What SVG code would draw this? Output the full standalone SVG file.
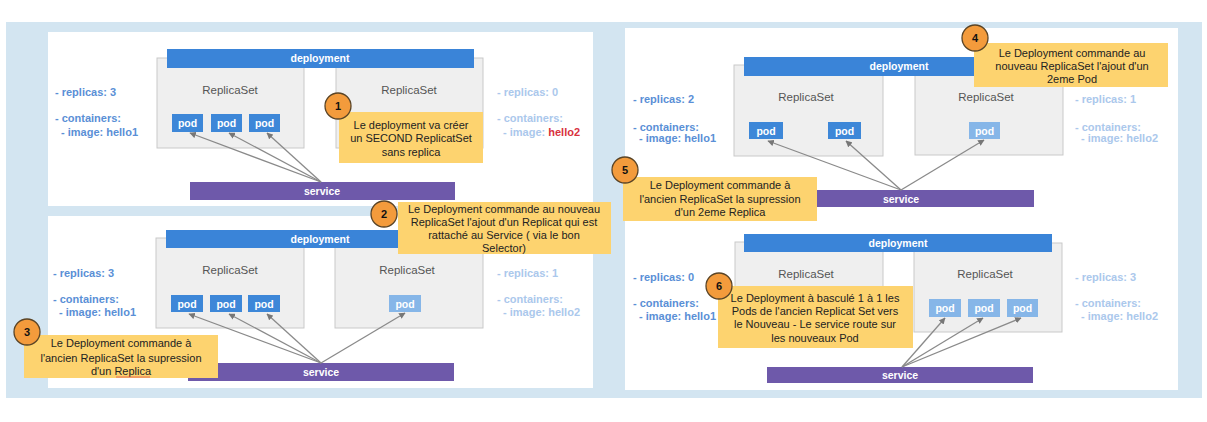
<svg xmlns="http://www.w3.org/2000/svg" width="1207" height="422" viewBox="0 0 1207 422">
<defs>
<style>
.bg{fill:#d3e5f1}
.panel{fill:#ffffff}
.rs{fill:#efefef;stroke:#c9c9c9;stroke-width:1}
.rst{font-family:"Liberation Sans",Arial,sans-serif;font-size:11.5px;fill:#555555;text-anchor:middle}
.dep{fill:#3a84d8}
.svc{fill:#6e59aa}
.bart{font-family:"Liberation Sans",Arial,sans-serif;font-size:10.5px;font-weight:bold;fill:#ffffff;text-anchor:middle}
.pod{fill:#3d87d8}
.podl{fill:#86b6e8}
.podt{font-family:"Liberation Sans",Arial,sans-serif;font-size:10.5px;font-weight:bold;fill:#ffffff;text-anchor:middle}
.lbl{font-family:"Liberation Sans",Arial,sans-serif;font-size:11px;font-weight:bold;fill:#5a8fd6}
.lbll{font-family:"Liberation Sans",Arial,sans-serif;font-size:11px;font-weight:bold;fill:#abc8ec}
.red{fill:#d8323e}
.note{fill:#fdd36f}
.nt{font-family:"Liberation Sans",Arial,sans-serif;font-size:11px;fill:#222222;text-anchor:middle}
.num{fill:#f39b3c;stroke:#5a4426;stroke-width:1.3}
.numt{font-family:"Liberation Sans",Arial,sans-serif;font-size:11px;font-weight:bold;fill:#111111;text-anchor:middle}
.conn{stroke:#8a8a8a;stroke-width:1.3;fill:none;marker-end:url(#ah)}
</style>
<marker id="ah" viewBox="0 0 10 10" refX="9" refY="5" markerWidth="5" markerHeight="5" orient="auto">
<path d="M0,0 L10,5 L0,10 z" fill="#777777"/>
</marker>
</defs>

<g id="background">
<rect class="bg" x="6" y="22" width="1196" height="376"/>
<rect class="panel" x="48" y="32" width="545" height="174"/>
<rect class="panel" x="48" y="216" width="545" height="172"/>
<rect class="panel" x="625" y="28" width="553" height="362"/>
</g>

<!-- Panel A: top-left -->
<g id="a-replicaset1">
<rect class="rs" x="157" y="58" width="147" height="90"/>
<text class="rst" x="230" y="94">ReplicaSet</text>
</g>
<g id="a-replicaset2">
<rect class="rs" x="336" y="58" width="147" height="90"/>
<text class="rst" x="409" y="94">ReplicaSet</text>
</g>
<g id="a-deployment">
<rect class="dep" x="167" y="49" width="307" height="19"/>
<text class="bart" x="320" y="62">deployment</text>
</g>
<g id="a-pod1"><rect class="pod" x="172" y="114" width="31" height="18"/><text class="podt" x="187.5" y="127">pod</text></g>
<g id="a-pod2"><rect class="pod" x="211" y="114" width="31" height="18"/><text class="podt" x="226.5" y="127">pod</text></g>
<g id="a-pod3"><rect class="pod" x="249" y="114" width="31" height="18"/><text class="podt" x="264.5" y="127">pod</text></g>
<g id="a-service">
<rect class="svc" x="190" y="182" width="265" height="18"/>
<text class="bart" x="322" y="195">service</text>
</g>
<g id="a-labels-left">
<text class="lbl" x="55" y="96">- replicas: 3</text>
<text class="lbl" x="55" y="122">- containers:</text>
<text class="lbl" x="61" y="136">- image: hello1</text>
</g>
<g id="a-labels-right">
<text class="lbll" x="497" y="96">- replicas: 0</text>
<text class="lbll" x="497" y="122">- containers:</text>
<text class="lbll" x="503" y="136">- image: <tspan class="red">hello2</tspan></text>
</g>

<!-- Panel B: bottom-left -->
<g id="b-replicaset1">
<rect class="rs" x="156" y="238" width="148" height="90"/>
<text class="rst" x="230" y="274">ReplicaSet</text>
</g>
<g id="b-replicaset2">
<rect class="rs" x="335" y="238" width="148" height="90"/>
<text class="rst" x="407" y="274">ReplicaSet</text>
</g>
<g id="b-deployment">
<rect class="dep" x="166" y="230" width="308" height="18"/>
<text class="bart" x="320" y="243">deployment</text>
</g>
<g id="b-pod1"><rect class="pod" x="171" y="295" width="32" height="17"/><text class="podt" x="187" y="307.5">pod</text></g>
<g id="b-pod2"><rect class="pod" x="210" y="295" width="32" height="17"/><text class="podt" x="226" y="307.5">pod</text></g>
<g id="b-pod3"><rect class="pod" x="248" y="295" width="32" height="17"/><text class="podt" x="264" y="307.5">pod</text></g>
<g id="b-pod4"><rect class="podl" x="389" y="295" width="32" height="17"/><text class="podt" x="405" y="307.5">pod</text></g>
<g id="b-service">
<rect class="svc" x="188" y="363" width="266" height="18"/>
<text class="bart" x="321" y="376">service</text>
</g>
<g id="b-labels-left">
<text class="lbl" x="53" y="277">- replicas: 3</text>
<text class="lbl" x="53" y="303">- containers:</text>
<text class="lbl" x="59" y="316">- image: hello1</text>
</g>
<g id="b-labels-right">
<text class="lbll" x="497" y="277">- replicas: 1</text>
<text class="lbll" x="497" y="303">- containers:</text>
<text class="lbll" x="503" y="316">- image: hello2</text>
</g>

<!-- Panel C top-right -->
<g id="c-replicaset1">
<rect class="rs" x="734" y="65" width="149" height="91"/>
<text class="rst" x="806" y="101">ReplicaSet</text>
</g>
<g id="c-replicaset2">
<rect class="rs" x="915" y="65" width="148" height="90"/>
<text class="rst" x="986" y="101">ReplicaSet</text>
</g>
<g id="c-deployment">
<rect class="dep" x="744" y="57" width="310" height="19"/>
<text class="bart" x="899" y="70">deployment</text>
</g>
<g id="c-pod1"><rect class="pod" x="749" y="122" width="34" height="17"/><text class="podt" x="766" y="134.5">pod</text></g>
<g id="c-pod2"><rect class="pod" x="828" y="122" width="33" height="17"/><text class="podt" x="844.5" y="134.5">pod</text></g>
<g id="c-pod3"><rect class="podl" x="969" y="122" width="31" height="17"/><text class="podt" x="984.5" y="134.5">pod</text></g>
<g id="c-service">
<rect class="svc" x="768" y="190" width="266" height="17"/>
<text class="bart" x="901" y="202.5">service</text>
</g>
<g id="c-labels-left">
<text class="lbl" x="633" y="103">- replicas: 2</text>
<text class="lbl" x="633" y="131">- containers:</text>
<text class="lbl" x="639" y="142">- image: hello1</text>
</g>
<g id="c-labels-right">
<text class="lbll" x="1075" y="103">- replicas: 1</text>
<text class="lbll" x="1075" y="131">- containers:</text>
<text class="lbll" x="1081" y="142">- image: hello2</text>
</g>

<!-- Panel D bottom-right -->
<g id="d-replicaset1">
<rect class="rs" x="735" y="242" width="148" height="90"/>
<text class="rst" x="806" y="278">ReplicaSet</text>
</g>
<g id="d-replicaset2">
<rect class="rs" x="914" y="243" width="148" height="89"/>
<text class="rst" x="985" y="278">ReplicaSet</text>
</g>
<g id="d-deployment">
<rect class="dep" x="744" y="234" width="308" height="18"/>
<text class="bart" x="898" y="247">deployment</text>
</g>
<g id="d-pod1"><rect class="podl" x="929" y="299" width="32" height="18"/><text class="podt" x="945" y="312">pod</text></g>
<g id="d-pod2"><rect class="podl" x="968" y="299" width="32" height="18"/><text class="podt" x="984" y="312">pod</text></g>
<g id="d-pod3"><rect class="podl" x="1007" y="299" width="31" height="18"/><text class="podt" x="1022.5" y="312">pod</text></g>
<g id="d-service">
<rect class="svc" x="767" y="367" width="266" height="16"/>
<text class="bart" x="900" y="379">service</text>
</g>
<g id="d-labels-left">
<text class="lbl" x="633" y="281">- replicas: 0</text>
<text class="lbl" x="633" y="307">- containers:</text>
<text class="lbl" x="639" y="320">- image: hello1</text>
</g>
<g id="d-labels-right">
<text class="lbll" x="1075" y="281">- replicas: 3</text>
<text class="lbll" x="1075" y="307">- containers:</text>
<text class="lbll" x="1081" y="320">- image: hello2</text>
</g>

<g id="connectors">
<line class="conn" x1="321" y1="182" x2="190" y2="133"/>
<line class="conn" x1="321" y1="182" x2="229" y2="133"/>
<line class="conn" x1="321" y1="182" x2="267" y2="133"/>
<line class="conn" x1="321" y1="363" x2="189" y2="314"/>
<line class="conn" x1="321" y1="363" x2="229" y2="314"/>
<line class="conn" x1="321" y1="363" x2="267" y2="314"/>
<line class="conn" x1="321" y1="363" x2="405" y2="313"/>
<line class="conn" x1="901" y1="190" x2="768" y2="141"/>
<line class="conn" x1="901" y1="190" x2="846" y2="141"/>
<line class="conn" x1="901" y1="190" x2="984" y2="140"/>
<line class="conn" x1="902" y1="367" x2="945" y2="318"/>
<line class="conn" x1="902" y1="367" x2="983" y2="318"/>
<line class="conn" x1="902" y1="367" x2="1021" y2="318"/>
</g>

<g id="note1">
<rect class="note" x="339" y="112" width="144" height="51"/>
<circle class="num" cx="338" cy="106" r="13"/>
<text class="numt" x="338" y="110">1</text>
<text class="nt" x="411" y="129">Le deployment va créer</text>
<text class="nt" x="411" y="142">un SECOND ReplicatSet</text>
<text class="nt" x="411" y="155.5">sans replica</text>
</g>
<g id="note2">
<rect class="note" x="398" y="202" width="213" height="52"/>
<circle class="num" cx="384" cy="214" r="13"/>
<text class="numt" x="384" y="218">2</text>
<text class="nt" x="504" y="213">Le Deployment commande au nouveau</text>
<text class="nt" x="504" y="226">ReplicaSet l'ajout d'un Replicat qui est</text>
<text class="nt" x="504" y="239">rattaché au Service ( via le bon</text>
<text class="nt" x="504" y="252">Selector)</text>
</g>
<g id="note3">
<rect class="note" x="24" y="335" width="194" height="43"/>
<circle class="num" cx="27" cy="332" r="13"/>
<text class="numt" x="27" y="336">3</text>
<text class="nt" x="121" y="347">Le Deployment commande à</text>
<text class="nt" x="121" y="361.5">l'ancien ReplicaSet la supression</text>
<text class="nt" x="121" y="375">d'un Replica</text>
<line x1="116" y1="377" x2="150" y2="377" stroke="#e05050" stroke-width="0.8"/>
</g>
<g id="note4">
<rect class="note" x="974" y="43" width="194" height="44"/>
<circle class="num" cx="975" cy="38" r="13"/>
<text class="numt" x="975" y="42">4</text>
<text class="nt" x="1072" y="57">Le Deployment commande au</text>
<text class="nt" x="1072" y="70">nouveau ReplicaSet l'ajout d'un</text>
<text class="nt" x="1072" y="83">2eme Pod</text>
</g>
<g id="note5">
<rect class="note" x="623" y="177" width="194" height="44"/>
<circle class="num" cx="625" cy="170" r="13"/>
<text class="numt" x="625" y="174">5</text>
<text class="nt" x="720" y="189">Le Deployment commande à</text>
<text class="nt" x="720" y="203">l'ancien ReplicaSet la supression</text>
<text class="nt" x="720" y="216">d'un 2eme Replica</text>
</g>
<g id="note6">
<rect class="note" x="718" y="286" width="195" height="62"/>
<circle class="num" cx="719" cy="286" r="13"/>
<text class="numt" x="719" y="290">6</text>
<text class="nt" x="815" y="302">Le Deployment à basculé 1 à 1 les</text>
<text class="nt" x="815" y="315">Pods de l'ancien Replicat Set vers</text>
<text class="nt" x="815" y="328">le Nouveau - Le service route sur</text>
<text class="nt" x="815" y="342">les nouveaux Pod</text>
</g>
</svg>
